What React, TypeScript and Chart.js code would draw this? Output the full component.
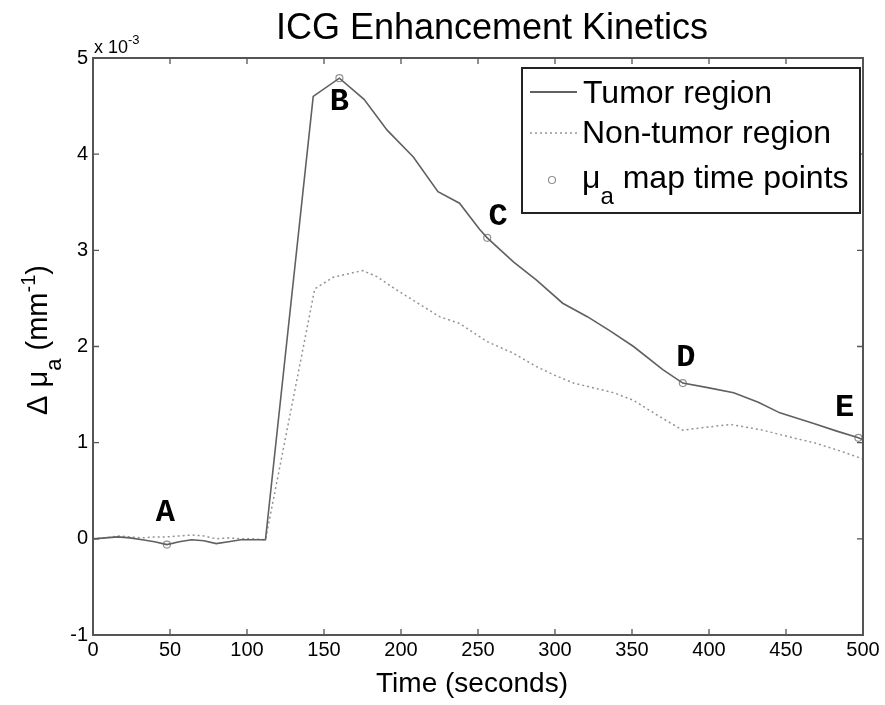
import React, { useEffect, useRef } from "react";
import { Chart, registerables } from "chart.js";

Chart.register(...registerables);

// Values in units of 10^-3 mm^-1
const tumorTimes = [0, 8, 16, 24, 32, 40, 48, 56, 64, 72, 80, 88, 96, 104, 112, 143, 160, 176, 191, 208, 224, 238, 251, 256, 273, 288, 305, 321, 336, 351, 370, 383, 400, 416, 432, 446, 468, 483, 497, 500];
const tumorValues = [0, 0.01, 0.02, 0.01, -0.01, -0.03, -0.06, -0.03, -0.01, -0.02, -0.05, -0.03, -0.01, -0.01, -0.01, 4.6, 4.79, 4.57, 4.25, 3.97, 3.61, 3.49, 3.22, 3.13, 2.88, 2.69, 2.45, 2.31, 2.16, 2.0, 1.76, 1.62, 1.57, 1.52, 1.42, 1.31, 1.2, 1.12, 1.05, 1.03];

const nonTumorTimes = [0, 8, 16, 24, 32, 40, 48, 56, 64, 72, 80, 88, 96, 104, 112, 144, 156, 175, 184, 196, 208, 225, 238, 256, 273, 288, 300, 312, 338, 351, 368, 383, 398, 414, 435, 452, 468, 484, 500];
const nonTumorValues = [0, 0.01, 0.03, 0.02, 0.01, 0.02, 0.02, 0.03, 0.04, 0.03, 0.0, 0.01, 0.0, 0.0, -0.01, 2.6, 2.72, 2.79, 2.73, 2.6, 2.48, 2.31, 2.24, 2.05, 1.93, 1.79, 1.7, 1.62, 1.52, 1.44, 1.27, 1.13, 1.16, 1.19, 1.13, 1.06, 1.0, 0.92, 0.83];

const mapTimes = [48, 160, 256, 383, 497];
const mapValues = [-0.06, 4.79, 3.13, 1.62, 1.05];
const mapLabels = ["A", "B", "C", "D", "E"];
const mapLabelTimes = [47, 160, 263, 385, 488];
const mapLabelValues = [0.27, 4.54, 3.35, 1.88, 1.36];

const xMin = 0;
const xMax = 500;
const xStep = 50;
const yMin = -1;
const yMax = 5;
const yStep = 1;

const titleText = "ICG Enhancement Kinetics";
const xTitle = "Time (seconds)";
const legendTumor = "Tumor region";
const legendNonTumor = "Non-tumor region";
const legendMapMain = "\u03bc";
const legendMapSub = "a";
const legendMapRest = " map time points";

const SANS = '"Liberation Sans", Arial, Helvetica, sans-serif';
const MONO = '"Liberation Mono", "Courier New", monospace';
const TUMOR_COLOR = "#606060";
const NONTUMOR_COLOR = "#939393";
const AXIS_COLOR = "#555";

function drawParts(ctx: CanvasRenderingContext2D, parts: { t: string; f: string; dy: number }[], cx: number, cy: number, align: "center" | "left") {
  let total = 0;
  const widths = parts.map((p) => {
    ctx.font = p.f;
    const w = ctx.measureText(p.t).width;
    total += w;
    return w;
  });
  let x = align === "center" ? cx - total / 2 : cx;
  ctx.textAlign = "left";
  ctx.textBaseline = "alphabetic";
  parts.forEach((p, i) => {
    ctx.font = p.f;
    ctx.fillText(p.t, x, cy + p.dy);
    x += widths[i];
  });
}

const framePlugin = {
  id: "matlabFrame",
  afterDraw(chart: any) {
    const { ctx, chartArea: ca, scales } = chart;
    const xs = scales.x;
    const ys = scales.y;
    ctx.save();

    // top and right box lines
    ctx.strokeStyle = AXIS_COLOR;
    ctx.lineWidth = 2;
    ctx.beginPath();
    ctx.moveTo(ca.left - 1, ca.top);
    ctx.lineTo(ca.right, ca.top);
    ctx.lineTo(ca.right, ca.bottom + 1);
    ctx.stroke();

    // inward ticks on all four sides
    const tl = 6;
    ctx.lineWidth = 1.3;
    ctx.beginPath();
    xs.ticks.forEach((t: any) => {
      const px = xs.getPixelForValue(t.value);
      ctx.moveTo(px, ca.bottom);
      ctx.lineTo(px, ca.bottom - tl);
      ctx.moveTo(px, ca.top);
      ctx.lineTo(px, ca.top + tl);
    });
    ys.ticks.forEach((t: any) => {
      const py = ys.getPixelForValue(t.value);
      ctx.moveTo(ca.left, py);
      ctx.lineTo(ca.left + tl, py);
      ctx.moveTo(ca.right, py);
      ctx.lineTo(ca.right - tl, py);
    });
    ctx.stroke();

    ctx.fillStyle = "#000";

    // exponent label
    drawParts(
      ctx,
      [
        { t: "x 10", f: `18px ${SANS}`, dy: 0 },
        { t: "-3", f: `13px ${SANS}`, dy: -9 },
      ],
      ca.left + 1,
      ca.top - 5,
      "left"
    );

    // title
    ctx.font = `36px ${SANS}`;
    ctx.textAlign = "center";
    ctx.textBaseline = "alphabetic";
    ctx.fillText(titleText, 492, 39);

    // x title
    ctx.font = `28px ${SANS}`;
    ctx.fillText(xTitle, 472, 692);

    // y title (rotated)
    ctx.save();
    ctx.translate(47, 340);
    ctx.rotate(-Math.PI / 2);
    drawParts(
      ctx,
      [
        { t: "\u0394 \u03bc", f: `29px ${SANS}`, dy: 0 },
        { t: "a", f: `22px ${SANS}`, dy: 14 },
        { t: " (mm", f: `29px ${SANS}`, dy: 0 },
        { t: "-1", f: `20px ${SANS}`, dy: -12 },
        { t: ")", f: `29px ${SANS}`, dy: 0 },
      ],
      0,
      0,
      "center"
    );
    ctx.restore();

    // time point letters
    ctx.font = `bold 32px ${MONO}`;
    ctx.textAlign = "center";
    ctx.textBaseline = "middle";
    ctx.fillStyle = "#000";
    mapLabels.forEach((lab, i) => {
      const px = xs.getPixelForValue(mapLabelTimes[i]);
      const py = ys.getPixelForValue(mapLabelValues[i]);
      ctx.fillText(lab, px, py);
    });

    // legend
    const lx = 522, ly = 68, lw = 338, lh = 145;
    ctx.fillStyle = "#fff";
    ctx.fillRect(lx, ly, lw, lh);
    ctx.strokeStyle = "#222";
    ctx.lineWidth = 2;
    ctx.strokeRect(lx, ly, lw, lh);

    ctx.strokeStyle = TUMOR_COLOR;
    ctx.lineWidth = 2;
    ctx.setLineDash([]);
    ctx.beginPath();
    ctx.moveTo(530, 92);
    ctx.lineTo(577, 92);
    ctx.stroke();

    ctx.strokeStyle = NONTUMOR_COLOR;
    ctx.lineWidth = 1.5;
    ctx.setLineDash([2, 3]);
    ctx.beginPath();
    ctx.moveTo(530, 133);
    ctx.lineTo(577, 133);
    ctx.stroke();
    ctx.setLineDash([]);

    ctx.strokeStyle = NONTUMOR_COLOR;
    ctx.lineWidth = 1.2;
    ctx.beginPath();
    ctx.arc(552, 180, 3.5, 0, Math.PI * 2);
    ctx.stroke();

    ctx.fillStyle = "#000";
    ctx.font = `32px ${SANS}`;
    ctx.textAlign = "left";
    ctx.textBaseline = "alphabetic";
    ctx.fillText(legendTumor, 583, 103);
    ctx.fillText(legendNonTumor, 582, 143);
    drawParts(
      ctx,
      [
        { t: legendMapMain, f: `32px ${SANS}`, dy: 0 },
        { t: legendMapSub, f: `24px ${SANS}`, dy: 16 },
        { t: legendMapRest, f: `32px ${SANS}`, dy: 0 },
      ],
      582,
      188,
      "left"
    );

    ctx.restore();
  },
};

export default function App() {
  const canvasRef = useRef<HTMLCanvasElement | null>(null);

  useEffect(() => {
    const canvas = canvasRef.current;
    if (!canvas) return;
    const chart = new Chart(canvas, {
      type: "line",
      data: {
        datasets: [
          {
            label: legendTumor,
            data: tumorTimes.map((t, i) => ({ x: t, y: tumorValues[i] })),
            borderColor: TUMOR_COLOR,
            borderWidth: 1.6,
            pointRadius: 0,
            tension: 0,
          },
          {
            label: legendNonTumor,
            data: nonTumorTimes.map((t, i) => ({ x: t, y: nonTumorValues[i] })),
            borderColor: NONTUMOR_COLOR,
            borderWidth: 1.5,
            borderDash: [2, 3],
            pointRadius: 0,
            tension: 0,
          },
          {
            label: "map time points",
            data: mapTimes.map((t, i) => ({ x: t, y: mapValues[i] })),
            showLine: false,
            pointRadius: 3.5,
            pointBorderColor: NONTUMOR_COLOR,
            pointBackgroundColor: "rgba(255,255,255,0)",
            pointBorderWidth: 1.2,
          },
        ],
      },
      options: {
        responsive: false,
        animation: false,
        layout: { padding: { top: 58, right: 22, left: 0, bottom: 0 } },
        plugins: {
          legend: { display: false },
          tooltip: { enabled: false },
          title: { display: false },
        },
        scales: {
          x: {
            type: "linear",
            min: xMin,
            max: xMax,
            ticks: {
              stepSize: xStep,
              font: { family: SANS, size: 20 },
              color: "#000",
              padding: 3,
              maxRotation: 0,
              autoSkip: false,
            },
            grid: { display: true, drawOnChartArea: false, drawTicks: false },
            border: { display: true, color: AXIS_COLOR, width: 2 },
            afterFit: (s: any) => {
              s.height = 70;
            },
          },
          y: {
            type: "linear",
            min: yMin,
            max: yMax,
            ticks: {
              stepSize: yStep,
              font: { family: SANS, size: 20 },
              color: "#000",
              padding: 5,
            },
            grid: { display: true, drawOnChartArea: false, drawTicks: false },
            border: { display: true, color: AXIS_COLOR, width: 2 },
            afterFit: (s: any) => {
              s.width = 93;
            },
          },
        },
      } as any,
      plugins: [framePlugin],
    });
    return () => chart.destroy();
  }, []);

  return (
    <div style={{ position: "absolute", left: 0, top: 0, width: 885, height: 705, background: "#fff" }}>
      <canvas ref={canvasRef} width={885} height={705} style={{ display: "block" }} />
    </div>
  );
}
